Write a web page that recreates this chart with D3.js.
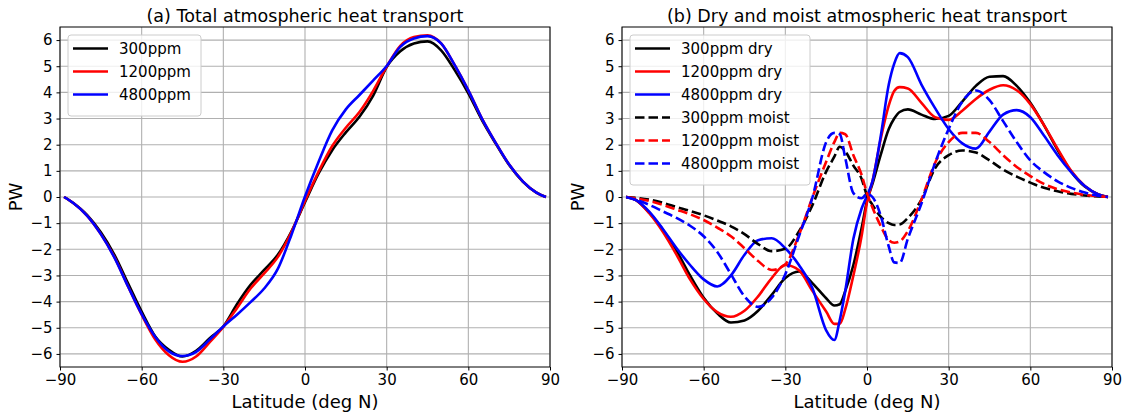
<!DOCTYPE html>
<html>
<head>
<meta charset="utf-8">
<script src="https://cdn.jsdelivr.net/npm/d3@7"></script>
<style>
  body { margin: 0; background: #fff; }
  svg { font-family: "DejaVu Sans", sans-serif; }
</style>
</head>
<body>
<svg id="chart" width="1125" height="413"></svg>
<script>
// latitudes (deg N) of the sampled points
const latA = [-88.5,-85,-80,-75,-70,-65,-60,-55,-50,-45,-40,-35,-30,-25,-20,-15,-10,-5,0,5,10,15,20,25,30,35,40,45,50,55,60,65,70,75,80,85,88.5];
const latB = [-88.5,-85,-80,-75,-70,-65,-60,-55,-50,-45,-40,-35,-30,-25,-20,-15,-12,-10,-8,-5,-2,0,2,5,8,10,12,15,20,25,30,35,40,45,50,55,60,65,70,75,80,85,88.5];

// (a) total transport, PW
const total300  = [0,-0.24,-0.69,-1.35,-2.21,-3.3,-4.38,-5.33,-5.84,-6.1,-5.88,-5.4,-4.95,-4.1,-3.36,-2.79,-2.21,-1.32,-0.2,0.9,1.79,2.47,3.07,3.87,4.97,5.57,5.87,5.95,5.61,4.85,3.96,2.94,2.05,1.22,0.59,0.17,0];
const total1200 = [0,-0.24,-0.72,-1.42,-2.3,-3.42,-4.5,-5.45,-6.05,-6.3,-6.1,-5.55,-4.97,-4.25,-3.5,-2.92,-2.3,-1.35,-0.15,0.97,1.95,2.65,3.25,4.05,4.99,5.78,6.12,6.18,5.87,5.04,4.08,3.0,2.08,1.24,0.6,0.17,0];
const total4800 = [0,-0.24,-0.72,-1.42,-2.32,-3.42,-4.48,-5.35,-5.9,-6.08,-5.92,-5.45,-4.95,-4.5,-4.02,-3.5,-2.75,-1.45,0.02,1.35,2.55,3.35,3.9,4.45,5.01,5.74,6.06,6.15,5.87,5.04,4.08,3.0,2.08,1.24,0.6,0.17,0];

// (b) dry and moist transport, PW
const dry300    = [0,-0.11,-0.6,-1.25,-2.05,-3.0,-3.85,-4.45,-4.8,-4.72,-4.35,-3.74,-3.1,-2.85,-3.3,-3.87,-4.15,-4.1,-3.6,-2.6,-1.2,-0.15,0.5,1.6,2.6,3.0,3.25,3.35,3.15,2.98,3.1,3.65,4.25,4.6,4.62,4.25,3.6,2.75,1.8,0.97,0.4,0.1,0];
const dry1200   = [0,-0.11,-0.62,-1.33,-2.2,-3.15,-3.9,-4.4,-4.58,-4.35,-3.8,-3.1,-2.6,-2.8,-3.6,-4.38,-4.85,-4.85,-4.3,-3.0,-1.5,-0.2,0.6,2.2,3.5,4.05,4.2,4.15,3.6,3.05,2.95,3.3,3.75,4.1,4.27,4.08,3.55,2.75,1.85,1.0,0.42,0.1,0];
const dry4800   = [0,-0.11,-0.56,-1.22,-1.95,-2.6,-3.15,-3.42,-3.0,-2.21,-1.65,-1.58,-1.96,-2.6,-3.5,-5.1,-5.47,-4.7,-3.6,-1.6,-0.45,0.05,0.6,2.3,4.3,5.1,5.5,5.35,4.3,3.4,2.6,2.05,1.85,2.5,3.15,3.32,3.05,2.35,1.6,0.95,0.42,0.1,0];
const moist300  = [0,-0.03,-0.1,-0.22,-0.38,-0.53,-0.7,-0.9,-1.12,-1.42,-1.8,-2.07,-1.98,-1.32,-0.3,0.97,1.54,1.92,1.75,1.2,0.7,0.05,-0.3,-0.75,-1.0,-1.07,-1.05,-0.8,-0.1,1.1,1.6,1.78,1.7,1.4,1.05,0.78,0.55,0.35,0.22,0.12,0.06,0.02,0];
const moist1200 = [0,-0.05,-0.15,-0.3,-0.48,-0.66,-0.88,-1.17,-1.5,-1.96,-2.45,-2.79,-2.57,-1.45,0.0,1.35,2.1,2.45,2.4,1.6,0.85,0.15,-0.4,-1.1,-1.65,-1.75,-1.7,-1.3,-0.1,1.3,2.1,2.45,2.45,2.1,1.6,1.15,0.8,0.5,0.3,0.17,0.08,0.03,0];
const moist4800 = [0,-0.1,-0.3,-0.55,-0.8,-1.1,-1.5,-2.1,-2.95,-3.8,-4.2,-3.85,-2.95,-1.5,0.0,2.1,2.45,2.4,1.5,0.15,-0.05,0.12,0.0,-0.7,-1.9,-2.5,-2.52,-1.6,-0.25,1.3,2.6,3.65,4.07,3.7,2.9,2.1,1.4,0.95,0.6,0.35,0.17,0.05,0];

const xTicks = [-90,-60,-30,0,30,60,90];
const yTicks = [-6,-5,-4,-3,-2,-1,0,1,2,3,4,5,6];

const seriesA = [
  { name: "300ppm",  values: total300,  color: "#000000", dash: null },
  { name: "1200ppm", values: total1200, color: "#ff0000", dash: null },
  { name: "4800ppm", values: total4800, color: "#0000ff", dash: null },
];
const seriesB = [
  { name: "300ppm dry",    values: dry300,    color: "#000000", dash: null },
  { name: "1200ppm dry",   values: dry1200,   color: "#ff0000", dash: null },
  { name: "4800ppm dry",   values: dry4800,   color: "#0000ff", dash: null },
  { name: "300ppm moist",  values: moist300,  color: "#000000", dash: "9.5,4" },
  { name: "1200ppm moist", values: moist1200, color: "#ff0000", dash: "9.5,4" },
  { name: "4800ppm moist", values: moist4800, color: "#0000ff", dash: "9.5,4" },
];

const svg = d3.select("#chart");
const plotTop = 27, plotBottom = 367;

function drawPanel(left, right, title, lats, series, legendW) {
  const x = d3.scaleLinear().domain([-90, 90]).range([left, right]);
  const y = d3.scaleLinear().domain([-6.5, 6.5]).range([plotBottom, plotTop]);
  const g = svg.append("g");

  // grid
  g.append("g").selectAll("line").data(xTicks).join("line")
    .attr("x1", d => x(d)).attr("x2", d => x(d))
    .attr("y1", plotTop).attr("y2", plotBottom)
    .attr("stroke", "#b0b0b0").attr("stroke-width", 1.1);
  g.append("g").selectAll("line").data(yTicks).join("line")
    .attr("x1", left).attr("x2", right)
    .attr("y1", d => y(d)).attr("y2", d => y(d))
    .attr("stroke", "#b0b0b0").attr("stroke-width", 1.1);

  // curves
  const line = d3.line()
    .x((d, i) => x(lats[i]))
    .y(d => y(d))
    .curve(d3.curveMonotoneX);
  series.forEach(s => {
    g.append("path")
      .attr("d", line(s.values))
      .attr("fill", "none")
      .attr("stroke", s.color)
      .attr("stroke-width", 2.6)
      .attr("stroke-dasharray", s.dash)
      .attr("stroke-linejoin", "round");
  });

  // axes
  const xAxis = g.append("g")
    .attr("transform", `translate(0,${plotBottom})`)
    .call(d3.axisBottom(x).tickValues(xTicks).tickSizeOuter(0).tickSize(3.5).tickPadding(4)
      .tickFormat(d => String(d).replace("-", "\u2212")));
  const yAxis = g.append("g")
    .attr("transform", `translate(${left},0)`)
    .call(d3.axisLeft(y).tickValues(yTicks).tickSizeOuter(0).tickSize(3.5).tickPadding(4)
      .tickFormat(d => String(d).replace("-", "\u2212")));
  [xAxis, yAxis].forEach(a => {
    a.selectAll("text").attr("font-size", 15).attr("fill", "#000").attr("font-family", "DejaVu Sans");
    a.selectAll("line").attr("stroke", "#000");
    a.select(".domain").remove();
  });

  // frame
  g.append("rect")
    .attr("x", left).attr("y", plotTop)
    .attr("width", right - left).attr("height", plotBottom - plotTop)
    .attr("fill", "none").attr("stroke", "#000").attr("stroke-width", 1);

  // labels
  g.append("text").attr("x", (left + right) / 2).attr("y", 22)
    .attr("text-anchor", "middle").attr("font-size", 17.5).text(title);
  g.append("text").attr("x", (left + right) / 2).attr("y", 408)
    .attr("text-anchor", "middle").attr("font-size", 18).text("Latitude (deg N)");
  g.append("text")
    .attr("transform", `translate(${left - 38},${(plotTop + plotBottom) / 2}) rotate(-90)`)
    .attr("text-anchor", "middle").attr("font-size", 18).text("PW");

  // legend
  const lg = g.append("g").attr("transform", `translate(${left + 8},35)`);
  lg.append("rect")
    .attr("width", legendW).attr("height", 12 + series.length * 23)
    .attr("rx", 3).attr("fill", "#fff").attr("fill-opacity", 0.8)
    .attr("stroke", "#cccccc").attr("stroke-width", 1);
  series.forEach((s, i) => {
    const yy = 13.5 + i * 23;
    lg.append("line")
      .attr("x1", 5).attr("x2", 40).attr("y1", yy).attr("y2", yy)
      .attr("stroke", s.color).attr("stroke-width", 2.6)
      .attr("stroke-dasharray", s.dash);
    lg.append("text")
      .attr("x", 51).attr("y", yy + 5.5)
      .attr("font-size", 15).text(s.name);
  });
}

drawPanel(60, 550, "(a) Total atmospheric heat transport", latA, seriesA, 133);
drawPanel(622, 1112, "(b) Dry and moist atmospheric heat transport", latB, seriesB, 180);
</script>
</body>
</html>
